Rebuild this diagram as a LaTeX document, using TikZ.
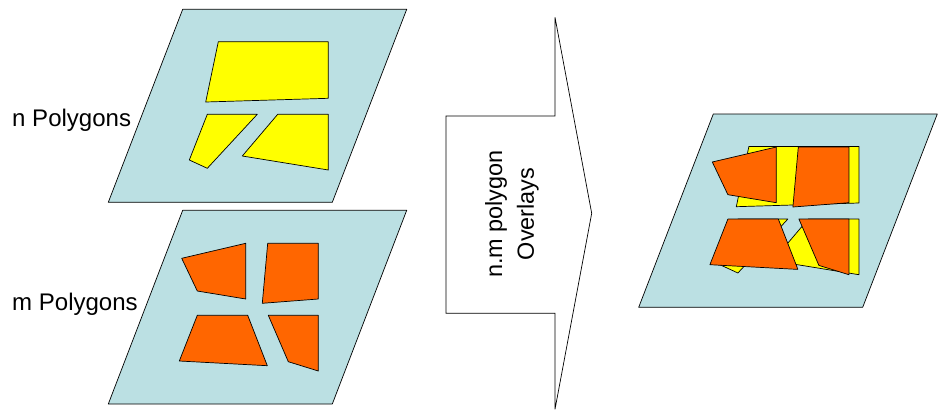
\documentclass[tikz,border=0pt]{standalone}
\usepackage{fontspec}
\setmainfont{Liberation Sans}
\definecolor{planeblue}{RGB}{187,224,227}
\definecolor{polyyellow}{RGB}{255,255,0}
\definecolor{polyorange}{RGB}{255,102,0}
\newcommand{\planeshape}{(182.7,9.3) -- (406.7,9.3) -- (332.3,202.3) -- (108.3,202.3) -- cycle}
\newcommand{\yellowpolys}{%
  \draw[ypoly] (218.3,41.7) -- (328.3,41.7) -- (328.3,98.3) -- (205.7,102) -- cycle;
  \draw[ypoly] (207.3,114.3) -- (257.3,114.3) -- (207.3,168.3) -- (189.3,160) -- cycle;
  \draw[ypoly] (277.7,114.3) -- (328.3,114.3) -- (328.3,170) -- (242.3,156) -- cycle;}
\newcommand{\orangepolys}{%
  \draw[opoly] (181.7,258.3) -- (245.7,243.3) -- (245.7,299) -- (197.3,291) -- cycle;
  \draw[opoly] (267.7,243.3) -- (318.3,243.3) -- (318.3,299) -- (262.3,303.3) -- cycle;
  \draw[opoly] (197.3,315.3) -- (247.7,315.3) -- (267.3,365.7) -- (179.3,361) -- cycle;
  \draw[opoly] (268.3,315.3) -- (318.3,315.3) -- (318.3,371) -- (288.3,361.7) -- cycle;}
\begin{document}
\begin{tikzpicture}[x=0.03cm,y=-0.03cm,
  plane/.style={draw=black,fill=planeblue,line width=0.6pt,line join=round},
  ypoly/.style={draw=black,fill=polyyellow,line width=0.6pt,line join=round},
  opoly/.style={draw=black,fill=polyorange,line width=0.6pt,line join=round},
  arrowshape/.style={draw=black,fill=white,line width=0.6pt},
  lbl/.style={font=\fontsize{20.5}{23}\selectfont,inner sep=0pt}]
\useasboundingbox (0,0) rectangle (939,412);
% top plane with n polygons
\draw[plane] \planeshape;
\yellowpolys
% bottom plane with m polygons
\draw[plane] (182.7,210.3) -- (406.7,210.3) -- (332.3,404) -- (108.3,404) -- cycle;
\orangepolys
% labels
\node[lbl,anchor=west] (nlabel) at (12,120) {n Polygons};
\node[lbl,anchor=west] (mlabel) at (12,304) {m Polygons};
% arrow
\draw[arrowshape] (446,116) -- (555,116) -- (555,17.3) -- (591.7,213.3) -- (555,409.3) -- (555,313.3) -- (446,313.3) -- cycle;
\node[lbl,rotate=90,align=center,font=\fontsize{20}{27}\selectfont] (overlay) at (512,214) {n.m polygon\\Overlays};
% result plane
\draw[plane] (713.3,114) -- (937.3,114) -- (862.7,307.3) -- (638.7,307.3) -- cycle;
\begin{scope}[shift={(530.6,104.7)}]
\yellowpolys
\end{scope}
\begin{scope}[shift={(530.6,-96.3)}]
\orangepolys
\end{scope}
\end{tikzpicture}
\end{document}
